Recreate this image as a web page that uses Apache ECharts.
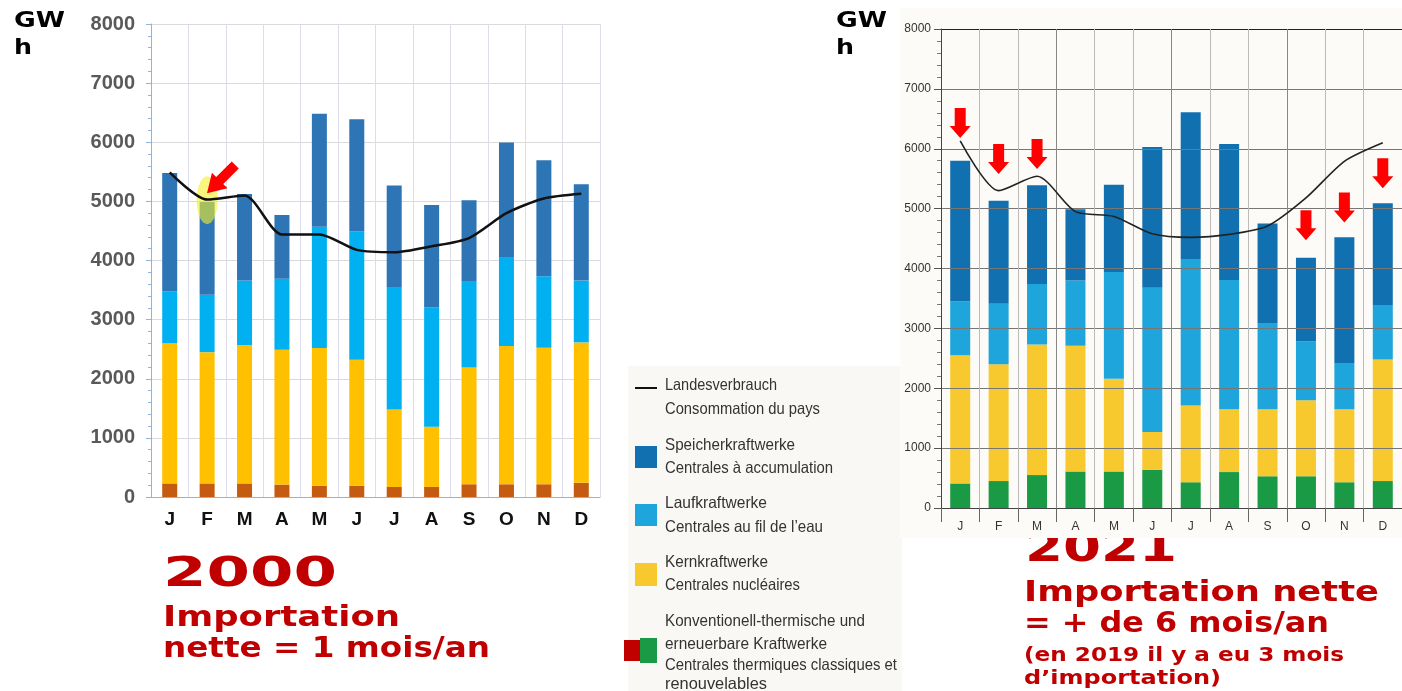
<!DOCTYPE html>
<html>
<head>
<meta charset="utf-8">
<script src="https://cdn.jsdelivr.net/npm/echarts@6/dist/echarts.min.js"></script>
<style>
html, body { margin: 0; padding: 0; background: #fff; }
#chart { width: 1402px; height: 691px; }
</style>
</head>
<body>
<div id="chart"></div>
<script>
// mois
const months = ['J', 'F', 'M', 'A', 'M', 'J', 'J', 'A', 'S', 'O', 'N', 'D'];
const yTicks = [0, 8000, 1000]; // min, max, pas

// 2000 (GWh, segments empilés)
const thermal2000 = [230, 230, 230, 210, 190, 190, 170, 170, 215, 215, 215, 240];
const nuclear2000 = [2370, 2220, 2340, 2280, 2330, 2130, 1310, 1020, 1975, 2340, 2310, 2375];
const runOfRiver2000 = [880, 970, 1090, 1200, 2050, 2170, 2060, 2020, 1450, 1490, 1210, 1045];
const storage2000 = [2000, 1570, 1465, 1080, 1910, 1900, 1730, 1730, 1380, 1950, 1960, 1630];
const consumption2000 = [5490, 5030, 5100, 4440, 4440, 4180, 4140, 4240, 4380, 4800, 5050, 5130];

// 2021
const thermal2021 = [410, 450, 550, 610, 610, 640, 430, 600, 530, 530, 430, 450];
const nuclear2021 = [2140, 1950, 2180, 2100, 1550, 630, 1280, 1050, 1120, 1270, 1220, 2030];
const runOfRiver2021 = [900, 1010, 1010, 1090, 1780, 2410, 2450, 2160, 1440, 980, 770, 910];
const storage2021 = [2350, 1720, 1650, 1190, 1460, 2350, 2450, 2270, 1660, 1400, 2100, 1700];
const consumption2021 = [6130, 5300, 5540, 4950, 4870, 4580, 4520, 4570, 4710, 5180, 5790, 6100];

// flèches (mois d'importation 2021, pointe en GWh)
const importMonths2021 = [0, 1, 2, 9, 10, 11];
const arrowTips2021 = [6180, 5580, 5660, 4470, 4770, 5340];

const chart = echarts.init(document.getElementById('chart'));

// mesure pour ajuster la largeur des textes
const ctx = document.createElement('canvas').getContext('2d');
function fitText(text, x, y, size, width, family, weight, fill, z) {
    const font = weight + ' ' + size + 'px ' + family;
    ctx.font = font;
    const w = ctx.measureText(text).width;
    return {
        type: 'text', x: x, y: y, scaleX: width / w, z: z === undefined ? 10 : z,
        style: { text: text, x: 0, y: 0, font: font, fill: fill, textAlign: 'left', verticalAlign: 'middle', textVerticalAlign: 'middle' }
    };
}
const RED = '#c00000';
const TITLE_FONT = "'DejaVu Sans', sans-serif";
const LEG_FONT = "'Liberation Sans', Arial, sans-serif";
const legColor = '#333';
const LS = 16.5;
const plain = function (v) { return String(v); };

const downArrow = 'path://M5,0 L16,0 L16,18 L21,18 L10.5,30 L0,18 L5,18 Z';
const bigArrow = 'path://M6,0 L16,0 L16,22 L22,22 L11,40 L0,22 L6,22 Z';

const graphics = [
    // fonds
    { type: 'rect', z: -1, shape: { x: 628, y: 366, width: 274, height: 325 }, style: { fill: '#faf8f4' } },
    { type: 'rect', z: -1, shape: { x: 900, y: 8, width: 502, height: 530 }, style: { fill: '#fcfbf8' } },
    // unités
    fitText('GW', 14, 21.5, 21, 51, TITLE_FONT, 'bold', '#000'),
    fitText('h', 14, 48.5, 21, 18, TITLE_FONT, 'bold', '#000'),
    fitText('GW', 836, 21.5, 21, 51, TITLE_FONT, 'bold', '#000'),
    fitText('h', 836, 48.5, 21, 18, TITLE_FONT, 'bold', '#000'),
    // textes rouges
    fitText('2000', 163, 575, 41, 174, TITLE_FONT, 'bold', RED),
    fitText('Importation', 163, 619, 28, 237, TITLE_FONT, 'bold', RED),
    fitText('nette = 1 mois/an', 163, 650, 28, 327, TITLE_FONT, 'bold', RED),
    fitText('2021', 1025, 550, 41, 152, TITLE_FONT, 'bold', RED, -2),
    fitText('Importation nette', 1024, 594, 28, 355, TITLE_FONT, 'bold', RED),
    fitText('= + de 6 mois/an', 1024, 625, 28, 305, TITLE_FONT, 'bold', RED),
    fitText('(en 2019 il y a eu 3 mois', 1024, 656, 19, 320, TITLE_FONT, 'bold', RED),
    fitText('d\u2019importation)', 1024, 679, 19, 197, TITLE_FONT, 'bold', RED),
    // légende
    { type: 'line', z: 10, shape: { x1: 635, y1: 388, x2: 657, y2: 388 }, style: { stroke: '#111', lineWidth: 2 } },
    { type: 'rect', z: 10, shape: { x: 635, y: 446, width: 22, height: 22 }, style: { fill: '#1170b0' } },
    { type: 'rect', z: 10, shape: { x: 635, y: 504, width: 22, height: 22 }, style: { fill: '#1ea6dc' } },
    { type: 'rect', z: 10, shape: { x: 635, y: 563, width: 22, height: 23 }, style: { fill: '#f7c92e' } },
    { type: 'rect', z: 10, shape: { x: 640, y: 638, width: 17, height: 25 }, style: { fill: '#1b9a45' } },
    { type: 'rect', z: 11, shape: { x: 624, y: 640, width: 16, height: 21 }, style: { fill: '#c00000' } },
    fitText('Landesverbrauch', 665, 385, LS, 112, LEG_FONT, 'normal', legColor),
    fitText('Consommation du pays', 665, 409, LS, 155, LEG_FONT, 'normal', legColor),
    fitText('Speicherkraftwerke', 665, 445, LS, 130, LEG_FONT, 'normal', legColor),
    fitText('Centrales \u00e0 accumulation', 665, 468, LS, 168, LEG_FONT, 'normal', legColor),
    fitText('Laufkraftwerke', 665, 503, LS, 102, LEG_FONT, 'normal', legColor),
    fitText('Centrales au fil de l\u2019eau', 665, 527, LS, 158, LEG_FONT, 'normal', legColor),
    fitText('Kernkraftwerke', 665, 562, LS, 103, LEG_FONT, 'normal', legColor),
    fitText('Centrales nucl\u00e9aires', 665, 585, LS, 135, LEG_FONT, 'normal', legColor),
    fitText('Konventionell-thermische und', 665, 621, LS, 200, LEG_FONT, 'normal', legColor),
    fitText('erneuerbare Kraftwerke', 665, 644, LS, 162, LEG_FONT, 'normal', legColor),
    fitText('Centrales thermiques classiques et', 665, 665, LS, 232, LEG_FONT, 'normal', legColor),
    fitText('renouvelables', 665, 684, LS, 102, LEG_FONT, 'normal', legColor)
];

function barSeries(name, data, color, axis, width, extra) {
    return Object.assign({
        name: name, type: 'bar', stack: 's' + axis, data: data,
        xAxisIndex: axis, yAxisIndex: axis, barWidth: width,
        itemStyle: { color: color }
    }, extra || {});
}

const option = {
    animation: false,
    backgroundColor: '#ffffff',
    graphic: graphics,
    grid: [
        { left: 151, top: 24, width: 449, height: 473 },
        { left: 941, top: 29, width: 470, height: 479 }
    ],
    xAxis: [
        {
            type: 'category', gridIndex: 0, data: months,
            axisLine: { lineStyle: { color: '#8db3e2' } },
            axisTick: { show: false },
            axisLabel: { color: '#111', fontWeight: 'bold', fontSize: 19, fontFamily: 'Liberation Sans, Arial', margin: 13, interval: 0 },
            splitLine: { show: true, interval: 0, lineStyle: { color: '#dcdcea' } }
        },
        {
            type: 'category', gridIndex: 1, data: months, z: 5,
            axisLine: { lineStyle: { color: '#444' } },
            axisTick: { show: true, length: 14, interval: 0, lineStyle: { color: '#666' } },
            axisLabel: { color: '#333', fontSize: 12, fontFamily: 'Liberation Sans, Arial', margin: 13, interval: 0 },
            splitLine: { show: true, interval: 0, lineStyle: { color: ['#888', '#bbb', '#bbb'] } }
        }
    ],
    yAxis: [
        {
            type: 'value', gridIndex: 0, min: yTicks[0], max: yTicks[1], interval: yTicks[2],
            axisLine: { show: true, lineStyle: { color: '#8db3e2' } },
            axisTick: { show: true, length: 5, lineStyle: { color: '#8db3e2' } },
            minorTick: { show: true, splitNumber: 5, length: 3, lineStyle: { color: '#8db3e2' } },
            axisLabel: { color: '#595959', fontWeight: 'bold', fontSize: 20, fontFamily: 'Liberation Sans, Arial', margin: 16, formatter: plain },
            splitLine: { lineStyle: { color: '#dadada' } }
        },
        {
            type: 'value', gridIndex: 1, min: yTicks[0], max: yTicks[1], interval: yTicks[2], z: 5,
            axisLine: { show: true, lineStyle: { color: '#444' } },
            axisTick: { show: true, length: 7, lineStyle: { color: '#555' } },
            minorTick: { show: true, splitNumber: 5, length: 4, lineStyle: { color: '#777' } },
            axisLabel: { color: '#333', fontSize: 12, fontFamily: 'Liberation Sans, Arial', margin: 10, formatter: plain },
            splitLine: { lineStyle: { color: ['#555', '#777', '#777', '#777', '#777', '#777', '#777', '#777', '#222'] } }
        }
    ],
    series: [
        barSeries('thermal2000', thermal2000, '#c55a11', 0, 15),
        barSeries('nuclear2000', nuclear2000, '#ffc000', 0, 15),
        barSeries('run2000', runOfRiver2000, '#00b0f0', 0, 15),
        barSeries('storage2000', storage2000, '#2e75b6', 0, 15, {
            markPoint: {
                z: 5, silent: true, label: { show: false },
                data: [{ coord: [1, 5020], symbol: 'circle', symbolSize: [21, 48], itemStyle: { color: 'rgba(245,240,40,0.6)' } }]
            }
        }),
        {
            name: 'cons2000', type: 'line', xAxisIndex: 0, yAxisIndex: 0, data: consumption2000,
            symbol: 'none', smooth: 0.25, z: 6,
            lineStyle: { color: '#111', width: 2.5 },
            markPoint: {
                z: 7, silent: true, label: { show: false },
                data: [{ coord: [1, 5140], symbol: bigArrow, symbolSize: [22, 40], symbolRotate: -45, symbolOffset: [14, -14], itemStyle: { color: '#ff0000' } }]
            }
        },
        barSeries('thermal2021', thermal2021, '#1b9a45', 1, 20),
        barSeries('nuclear2021', nuclear2021, '#f7c92e', 1, 20),
        barSeries('run2021', runOfRiver2021, '#1ea6dc', 1, 20),
        barSeries('storage2021', storage2021, '#1170b0', 1, 20),
        {
            name: 'cons2021', type: 'line', xAxisIndex: 1, yAxisIndex: 1, data: consumption2021,
            symbol: 'none', smooth: 0.25, z: 6,
            lineStyle: { color: '#222', width: 1.6 },
            markPoint: {
                z: 7, silent: true, label: { show: false },
                symbol: downArrow, symbolSize: [21, 30], symbolOffset: [0, '-50%'],
                itemStyle: { color: '#ff0000' },
                data: importMonths2021.map(function (m, i) { return { coord: [m, arrowTips2021[i]] }; })
            }
        }
    ]
};

chart.setOption(option);
</script>
</body>
</html>
